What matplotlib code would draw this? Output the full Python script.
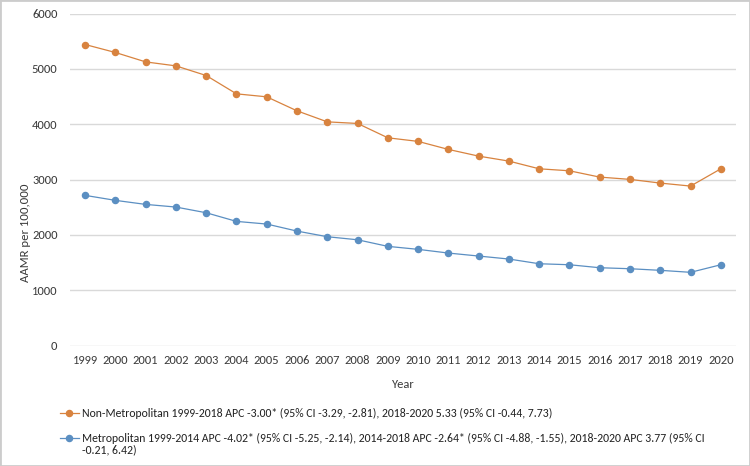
import matplotlib
matplotlib.use("Agg")
import matplotlib.pyplot as plt
from matplotlib.patches import Rectangle

years = [str(y) for y in range(1999, 2021)]
non_metro = [5440, 5296, 5126, 5054, 4880, 4549, 4495, 4242, 4043, 4014, 3755,
             3690, 3545, 3424, 3334, 3195, 3159, 3045, 3004, 2937, 2883, 3195]
metro = [2715, 2625, 2552, 2504, 2401, 2245, 2197, 2070, 1968, 1913, 1794,
         1740, 1673, 1619, 1565, 1480, 1462, 1408, 1390, 1361, 1325, 1462]
label_non = ("Non-Metropolitan 1999-2018 APC -3.00* (95% CI -3.29, -2.81), "
             "2018-2020 5.33 (95% CI -0.44, 7.73)")
label_metro = ("Metropolitan 1999-2014 APC -4.02* (95% CI -5.25, -2.14), "
               "2014-2018 APC -2.64* (95% CI -4.88, -1.55), 2018-2020 APC 3.77 (95% CI")
label_metro_cont = "-0.21, 6.42)"
yticks = [0, 1000, 2000, 3000, 4000, 5000, 6000]

plt.rcParams['font.family'] = ['Carlito', 'Liberation Sans', 'DejaVu Sans']

fig = plt.figure(figsize=(7.5, 4.66), dpi=100)
ax = fig.add_axes([0.0933, 0.2582, 0.888, 0.7128])

x = list(range(len(years)))
orange = '#d8833f'
blue = '#5b8fc2'
ax.plot(x, non_metro, color=orange, lw=0.9, marker='o', ms=4.4, mec=orange, mfc=orange,
        label=label_non)
ax.plot(x, metro, color=blue, lw=0.9, marker='o', ms=4.4, mec=blue, mfc=blue,
        label=label_metro)

ax.set_xlim(-0.5, len(years) - 0.5)
ax.set_ylim(0, 6000)
ax.set_yticks(yticks)
ax.set_yticklabels([str(v) for v in yticks])
ax.set_xticks(x)
ax.set_xticklabels(years)
ax.grid(axis='y', color='#d9d9d9', lw=1)
ax.set_axisbelow(True)
for s in ax.spines.values():
    s.set_visible(False)
ax.tick_params(axis='both', length=0, labelsize=9, colors='#3a3a3a')
ax.tick_params(axis='y', pad=9)
ax.tick_params(axis='x', pad=7)
ax.set_ylabel('AAMR per 100,000', fontsize=9.2, color='#3a3a3a')
ax.yaxis.set_label_coords(31 / 750, 0.5, transform=fig.transFigure)
fig.text(403 / 750, 1 - 385 / 466, 'Year', ha='center', va='center', fontsize=9,
         color='#3a3a3a')

leg = ax.legend(loc='upper left', bbox_to_anchor=(60 / 750, 1 - 408 / 466),
                bbox_transform=fig.transFigure, frameon=False, fontsize=8.5,
                handlelength=1.6, handletextpad=0.28, labelspacing=1.15,
                borderpad=0, borderaxespad=0, markerscale=1.0)
for t in leg.get_texts():
    t.set_color('#222222')

fig.canvas.draw()
bb = leg.get_texts()[1].get_window_extent().transformed(fig.transFigure.inverted())
fig.text(bb.x0, bb.y0 - 1 / 466, label_metro_cont, ha='left', va='top', fontsize=8.5,
         color='#222222')

fig.patches.append(Rectangle((0, 0), 1, 1, transform=fig.transFigure, fill=False,
                             edgecolor='#cccccc', lw=2))

fig.savefig('out.png', dpi=100)
